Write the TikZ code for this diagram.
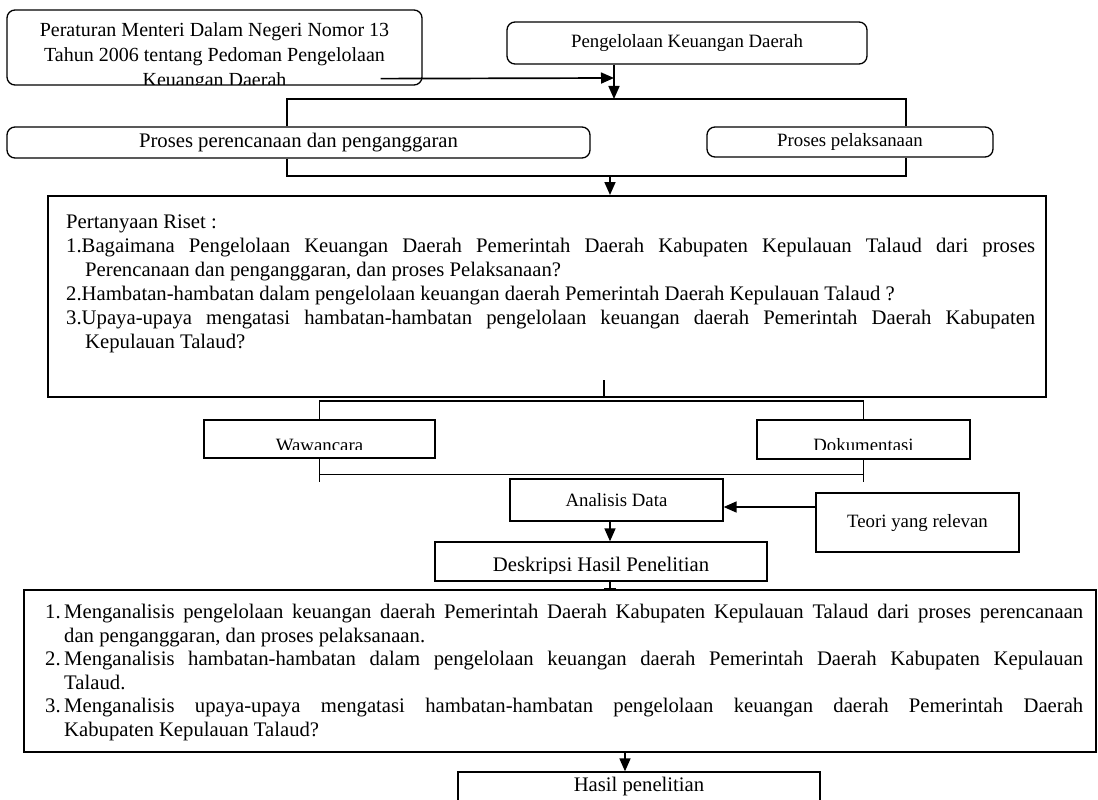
\documentclass[tikz,border=0pt]{standalone}
\usepackage{fontspec}
\setmainfont{Liberation Serif}
\usetikzlibrary{arrows.meta}
\newcommand\bigtxt{\fontsize{20.7}{24}\selectfont}
\newcommand\listtxt{\fontsize{20.7}{23.5}\selectfont}
\newcommand\smalltxt{\fontsize{18.8}{22}\selectfont}
\begin{document}
\begin{tikzpicture}[x=1pt,y=1pt,
        box/.style={draw,line width=1.3pt,inner sep=0pt},
        rbox/.style={box,rounded corners=8pt},
        textbox/.style={draw,line width=2pt,inner sep=0pt},
        arr/.style={line width=1.7pt,-{Triangle[length=13pt,width=11pt]}},
        link/.style={line width=1.1pt}]
        \useasboundingbox (0,0) rectangle (1098,-800);
        %% regulation and topic
        \node[rbox,minimum width=415,minimum height=75] (regs) at (214.5,-47.5) {};
        \begin{scope}
            \clip (regs.north west) rectangle ([yshift=1]regs.south east);
            \node[align=center,inner sep=0pt,anchor=north,font=\fontsize{20}{25}\selectfont] (regtext) at (214.5,-22)
                {Peraturan Menteri Dalam Negeri Nomor 13\\Tahun 2006 tentang Pedoman Pengelolaan\\Keuangan Daerah};
        \end{scope}
        \node[rbox,minimum width=360,minimum height=42,font=\smalltxt] (pkd) at (687,-43) {Pengelolaan Keuangan Daerah};
        \coordinate (meet) at (614,-78);
        \coordinate (join) at (614,-99);
        \draw[arr] ([shift={(-42,7)}]regs.south east) -- (meet);
        \draw[arr] (pkd.south -| join) -- (join);
        %% the two processes
        \node[rbox,minimum width=583,minimum height=31,font=\bigtxt] (plan) at (298.5,-142.5) {Proses perencanaan dan penganggaran};
        \node[rbox,minimum width=286,minimum height=30,font=\smalltxt] (exec) at (850,-142) {Proses pelaksanaan};
        \draw[link] ([xshift=-11.5]plan.north) |- (join) -| ([xshift=56]exec.north);
        \coordinate (split) at (610,-176);
        \draw[link] ([xshift=-11.5]plan.south) |- (split) -| ([xshift=56]exec.south);
        %% research questions
        \node[textbox,minimum width=998,minimum height=201] (quest) at (547,-296.5) {};
        \draw[arr] (split) -- (quest.north -| split);
        \node[font=\bigtxt,align=left,anchor=north west,inner sep=0pt] (qtext) at (66,-211) {%
            \strut Pertanyaan Riset :\\
            \makebox[969pt][s]{1.Bagaimana Pengelolaan Keuangan Daerah Pemerintah Daerah Kabupaten Kepulauan Talaud dari proses}\\
            \hspace*{19pt}Perencanaan dan penganggaran, dan proses Pelaksanaan?\\
            2.Hambatan-hambatan dalam pengelolaan keuangan daerah Pemerintah Daerah Kepulauan Talaud ?\\
            \makebox[969pt][s]{3.Upaya-upaya mengatasi hambatan-hambatan pengelolaan keuangan daerah Pemerintah Daerah Kabupaten}\\
            \hspace*{19pt}Kepulauan Talaud?};
        \draw[link] ([xshift=57]quest.south) -- ++(0,18);
        %% data collection
        \node[box,minimum width=231,minimum height=38] (wawan) at (319.5,-439) {};
        \node[box,minimum width=213,minimum height=39] (doku) at (863.5,-439.5) {};
        \begin{scope}
            \clip (wawan.north west) rectangle ([yshift=9]wawan.south east);
            \node[font=\smalltxt,anchor=base,inner sep=0pt] (wawantext) at ([yshift=7]wawan.south) {Wawancara};
        \end{scope}
        \begin{scope}
            \clip (doku.north west) rectangle ([yshift=10]doku.south east);
            \node[font=\smalltxt,anchor=base,inner sep=0pt] (dokutext) at ([yshift=8]doku.south) {Dokumentasi};
        \end{scope}
        \draw[link] (wawan.north) |- ([yshift=-3]quest.south) -| (doku.north);
        \draw[link] (wawan.south) -- ++(0,-23);
        \draw[link] (doku.south) -- ++(0,-22);
        \draw[link] ([yshift=-16]wawan.south) -- ([yshift=-16]wawan.south -| doku.south);
        %% analysis
        \node[box,minimum width=213,minimum height=42,font=\smalltxt] (anal) at (616.5,-500) {Analisis Data};
        \node[box,minimum width=203,minimum height=59,font=\smalltxt,text depth=4pt] (teori) at (917.5,-522.5) {Teori yang relevan};
        \node[box,minimum width=332,minimum height=39] (desk) at (601,-561.5) {};
        \begin{scope}
            \clip (desk.north west) rectangle ([yshift=8]desk.south east);
            \node[font=\bigtxt,anchor=base,inner sep=0pt] (desktext) at ([yshift=10]desk.south) {Deskripsi Hasil Penelitian};
        \end{scope}
        \draw[arr] ([yshift=-7]anal.east -| teori.west) -- ([yshift=-7]anal.east);
        \draw[arr] ([xshift=-6.5]anal.south) -- ([xshift=-6.5]anal.south |- desk.north);
        %% research aims
        \node[textbox,minimum width=1072,minimum height=162] (goals) at (560,-671) {};
        \draw[link,-{Bar[width=12pt]}] ([xshift=9]desk.south) -- ([xshift=9]desk.south |- goals.north);
        \node[font=\listtxt,align=left,anchor=north west,inner sep=0pt] (gtext) at (45,-602) {%
            \strut\makebox[1038pt][s]{\makebox[19pt][l]{1.}Menganalisis pengelolaan keuangan daerah Pemerintah Daerah Kabupaten Kepulauan Talaud dari proses perencanaan}\\
            \hspace*{19pt}dan penganggaran, dan proses pelaksanaan.\\
            \makebox[1038pt][s]{\makebox[19pt][l]{2.}Menganalisis hambatan-hambatan dalam pengelolaan keuangan daerah Pemerintah Daerah Kabupaten Kepulauan}\\
            \hspace*{19pt}Talaud.\\
            \makebox[1038pt][s]{\makebox[19pt][l]{3.}Menganalisis upaya-upaya mengatasi hambatan-hambatan pengelolaan keuangan daerah Pemerintah Daerah}\\
            \hspace*{19pt}Kabupaten Kepulauan Talaud?};
        %% result
        \node[box,minimum width=362,minimum height=30,font=\bigtxt] (hasil) at (639,-787) {Hasil penelitian};
        \draw[arr] ([xshift=-14]hasil.north |- goals.south) -- ([xshift=-14]hasil.north);
    \end{tikzpicture}
\end{document}
